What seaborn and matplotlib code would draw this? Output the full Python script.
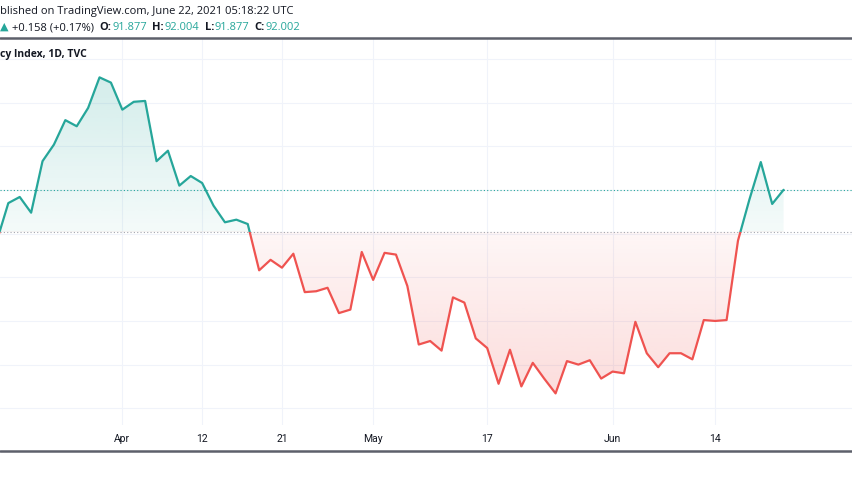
import numpy as np
import pandas as pd
import matplotlib
matplotlib.use("Agg")
import matplotlib.pyplot as plt
import seaborn as sns
from matplotlib.patches import Rectangle
from matplotlib.lines import Line2D
from matplotlib.path import Path

# daily closes, U.S. Dollar Currency Index (TVC)
dates = pd.bdate_range("2021-03-17", "2021-06-22")
close = [91.42,
         91.85, 91.92, 91.74, 92.33, 92.52, 92.80, 92.73, 92.94, 93.29, 93.23,
         92.92, 93.01, 93.02, 92.33, 92.45, 92.05, 92.16, 92.08, 91.82, 91.63,
         91.66, 91.61, 91.08, 91.20, 91.11, 91.27, 90.83, 90.84, 90.88, 90.59,
         90.63, 91.29, 90.97, 91.28, 91.26, 90.90, 90.23, 90.27, 90.16, 90.77,
         90.71, 90.30, 90.19, 89.78, 90.17, 89.75, 90.02, 89.84, 89.67, 90.04,
         90.00, 90.05, 89.84, 89.92, 89.90, 90.49, 90.13, 89.97, 90.13, 90.13,
         90.06, 90.51, 90.50, 90.51, 91.42, 91.89, 92.32, 91.84, 92.002]
baseline = 91.52
last_close = 92.002

tick_dates = ["2021-04-01", "2021-04-12", "2021-04-21", "2021-05-03",
              "2021-05-17", "2021-06-01", "2021-06-14"]
tick_labels = ["Apr", "12", "21", "May", "17", "Jun", "14"]
price_grid = np.arange(89.5, 94.0, 0.5)

header = "blished on TradingView.com, June 22, 2021 05:18:22 UTC"
title = "cy Index, 1D, TVC"
ohlc = [("▲", "up", "normal", 4), ("+0.158 (+0.17%)", "text", "normal", 5),
        ("O:", "text", "bold", 1), ("91.877", "up", "normal", 5),
        ("H:", "text", "bold", 1), ("92.004", "up", "normal", 5),
        ("L:", "text", "bold", 1), ("91.877", "up", "normal", 5),
        ("C:", "text", "bold", 1), ("92.002", "up", "normal", 5)]

GREEN = "#26a69a"
RED = "#ef5350"
TEXT = "#131722"
GRID = "#f0f3fa"

sns.set_style("white")
plt.rcParams["font.family"] = ["Open Sans", "DejaVu Sans"]

W, H = 852, 485
fig = plt.figure(figsize=(W / 100, H / 100), dpi=100)
ax = fig.add_axes([0, (H - 426) / H, 1, (426 - 39) / H])

df = pd.DataFrame({"idx": np.arange(len(close)), "close": close})
x = df["idx"].to_numpy()
y = df["close"].to_numpy()

xlim = (0.27, 75.0)
ylim = (89.308, 93.741)

# gradient fills above / below the baseline, clipped to the area under the line
poly = ax.fill_between(x, y, baseline, facecolor="none", edgecolor="none")
clip = Path.make_compound_path(*poly.get_paths())


def gradient(color, a_top, a_bot, y0, y1):
    rgb = matplotlib.colors.to_rgb(color)
    n = 256
    arr = np.zeros((n, 1, 4))
    arr[..., :3] = rgb
    arr[:, 0, 3] = np.linspace(a_top, a_bot, n)
    im = ax.imshow(arr, extent=[x[0], x[-1], y0, y1], aspect="auto",
                   origin="upper", zorder=1, interpolation="bilinear")
    im.set_clip_path(clip, transform=ax.transData)


gradient(GREEN, 0.20, 0.05, baseline, max(y))
gradient(RED, 0.05, 0.20, min(y), baseline)

# line: green above the baseline, red below
for color, rect in [(GREEN, (xlim[0] - 5, baseline, 100, 10)),
                    (RED, (xlim[0] - 5, baseline - 10, 100, 10))]:
    sns.lineplot(data=df, x="idx", y="close", ax=ax, color=color,
                 linewidth=1.6, zorder=3)
    ln = ax.lines[-1]
    ln.set_clip_path(Rectangle(rect[:2], rect[2], rect[3], transform=ax.transData))

ax.axhline(baseline, color="#a3a6af", linestyle=(0, (1, 2)), linewidth=0.8, zorder=2)
ax.axhline(last_close, color=GREEN, linestyle=(0, (1, 2)), linewidth=0.8, zorder=2)

ax.set_xlim(*xlim)
ax.set_ylim(*ylim)
tick_pos = dates.get_indexer(pd.to_datetime(tick_dates))
ax.set_xticks(tick_pos)
ax.set_xticklabels(tick_labels, fontsize=7.5, color=TEXT, family=["Roboto", "DejaVu Sans"])
ax.set_yticks(price_grid)
ax.set_yticklabels([])
ax.tick_params(axis="x", length=0, pad=6)
ax.tick_params(axis="y", length=0)
ax.grid(True, color=GRID, linewidth=0.8)
ax.set_axisbelow(True)
ax.set_xlabel("")
ax.set_ylabel("")
for s in ax.spines.values():
    s.set_visible(False)

# dark separator lines
for ypx in (39, 452):
    fig.add_artist(Line2D([0, 1], [1 - ypx / H] * 2, color="#5d606b",
                          linewidth=1.8, transform=fig.transFigure))

fig.text(0, 1 - 11.5 / H, header, fontsize=8, color=TEXT, va="center", ha="left")
fig.text(0, 1 - 54 / H, title, fontsize=7.5, color=TEXT, weight="bold",
         va="center", ha="left")

renderer = fig.canvas.get_renderer()
xpx = 0
for s, c, w, gap in ohlc:
    t = fig.text(xpx / W, 1 - 30 / H, s, fontsize=8, weight=w,
                 color=GREEN if c == "up" else TEXT, va="baseline", ha="left")
    xpx = t.get_window_extent(renderer).x1 + gap

fig.savefig("out.png", dpi=100)
